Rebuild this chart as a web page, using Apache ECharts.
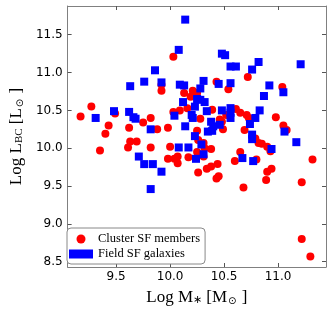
<!DOCTYPE html>
<html><head><meta charset="utf-8">
<script src="https://cdn.jsdelivr.net/npm/echarts@6/dist/echarts.min.js"></script>
<style>html,body{margin:0;padding:0;background:#fff}#c{width:332px;height:313px}</style>
</head><body><div id="c"></div>
<script>
// Cluster SF members (red circles)
const clusterX = [10.03,10.72,10.43,10.54,11.04,9.92,9.92,10.13,10.21,10.19,10.25,9.27,9.17,9.49,9.43,9.82,9.75,9.62,10.03,10.09,10.16,10.28,10.39,10.48,10.61,10.65,10.71,10.73,10.98,11.05,10.69,9.98,9.88,9.40,9.35,9.63,9.69,9.61,9.82,10.00,9.98,10.04,10.07,10.07,10.17,10.25,10.31,10.32,10.38,10.26,10.34,10.38,10.44,10.43,10.45,10.60,10.65,10.68,10.80,10.90,10.89,10.94,10.93,10.90,10.82,10.85,10.79,11.08,11.22,11.32,10.49,11.22,11.30,10.26,10.31,10.52,10.25,10.46];
const clusterY = [11.21,10.94,10.88,10.78,10.81,10.84,10.76,10.73,10.76,10.68,10.73,10.55,10.42,10.46,10.30,10.40,10.34,10.27,10.48,10.50,10.53,10.39,10.51,10.35,10.52,10.47,10.44,10.40,10.41,10.30,10.24,10.27,10.25,10.19,9.97,10.09,10.09,10.01,10.01,10.02,9.86,9.86,9.89,9.80,9.88,9.95,9.89,10.00,9.99,9.68,9.73,9.76,9.79,9.60,9.63,9.83,9.95,9.48,9.85,9.69,9.58,9.73,9.96,10.02,10.07,10.06,10.13,10.24,9.55,9.85,10.25,8.80,8.57,10.11,10.07,10.44,10.23,10.38];
// Field SF galaxies (blue squares)
const fieldX = [10.14,10.08,10.48,10.51,10.56,10.61,10.82,11.21,10.76,9.86,9.76,9.63,9.92,10.09,10.13,10.31,10.28,10.45,10.56,10.92,11.05,10.87,10.25,10.28,10.32,10.12,10.23,10.34,10.48,10.56,10.56,10.56,10.20,10.21,10.14,10.38,10.40,10.46,10.35,10.23,9.48,9.62,9.31,9.66,9.68,10.04,10.83,10.79,10.74,9.82,9.71,9.76,9.84,9.92,9.82,10.08,10.17,10.29,10.31,10.24,10.76,10.76,10.67,10.77,10.94,11.06,11.17,10.39];
const fieldY = [11.70,11.30,11.25,11.23,11.08,11.08,11.14,11.11,11.04,11.03,10.88,10.82,10.87,10.84,10.83,10.89,10.79,10.85,10.86,10.83,10.74,10.69,10.65,10.64,10.61,10.61,10.55,10.49,10.50,10.53,10.47,10.40,10.44,10.40,10.29,10.35,10.29,10.31,10.22,10.16,10.49,10.48,10.40,10.41,10.39,10.43,10.50,10.40,10.32,10.25,9.89,9.79,9.79,9.69,9.46,10.01,10.01,10.05,9.92,9.86,10.18,10.12,9.87,9.83,9.99,10.22,10.08,10.23];
const xTicks = [9.5, 10.0, 10.5, 11.0];
const yTicks = [8.5, 9.0, 9.5, 10.0, 10.5, 11.0, 11.5];
const xRange = [9.05, 11.445];
const yRange = [8.43, 11.88];
const seriesNames = ['Cluster SF members', 'Field SF galaxies'];

const zip = (a, b) => a.map((v, i) => [v, b[i]]);
const frame = '#808080';
const serif = 'Liberation Serif';
const richName = {
  a: {fontFamily: serif, fontSize: 17, color: '#000'},
  s: {fontFamily: serif, fontSize: 11, color: '#000', verticalAlign: 'bottom', padding: [6, 0, 0, 0]},
  o: {fontFamily: 'DejaVu Sans', fontSize: 10, color: '#000', verticalAlign: 'bottom', padding: [6, 1, 0, 1]}
};
const baseAxis = (range, ticks, show) => ({
  type: 'value', min: range[0], max: range[1],
  axisLine: {show: true, onZero: false, lineStyle: {color: frame, width: 1}},
  axisTick: {show: true, inside: true, length: 4, customValues: ticks, lineStyle: {color: '#555'}},
  axisLabel: {show: show, customValues: ticks, formatter: v => v.toFixed(1),
    fontFamily: 'DejaVu Sans', fontSize: 12, color: '#000'},
  splitLine: {show: false}
});

const chart = echarts.init(document.getElementById('c'));
chart.setOption({
  animation: false,
  backgroundColor: '#fff',
  grid: {left: 61, right: 6, top: 6, bottom: 46, containLabel: false},
  xAxis: [
    Object.assign(baseAxis(xRange, xTicks, true), {position: 'bottom',
      axisLabel: Object.assign(baseAxis(xRange, xTicks, true).axisLabel, {margin: 4}),
      name: '{a|Log M}{s|∗}{a| [M}{o|⊙}{a| ]}', nameLocation: 'middle', nameGap: 22,
      nameTextStyle: {rich: richName}}),
    Object.assign(baseAxis(xRange, xTicks, false), {position: 'top'})
  ],
  yAxis: [
    Object.assign(baseAxis(yRange, yTicks, true), {position: 'left',
      axisLabel: Object.assign(baseAxis(yRange, yTicks, true).axisLabel, {margin: 5}),
      name: '{a|Log L}{s|BC}{a| [L}{o|⊙}{a| ]}', nameLocation: 'middle', nameGap: 37, nameRotate: 90,
      nameTextStyle: {rich: richName}}),
    Object.assign(baseAxis(yRange, yTicks, false), {position: 'right'})
  ],
  legend: {
    orient: 'vertical', left: 67, top: 228,
    padding: [4, 5, 3, 2], itemGap: 1, itemWidth: 24, itemHeight: 9,
    borderColor: '#888', borderWidth: 1, borderRadius: 4, backgroundColor: '#fff',
    textStyle: {fontFamily: serif, fontSize: 12.5, color: '#000', lineHeight: 14},
    data: seriesNames
  },
  series: [
    {name: seriesNames[0], type: 'scatter', symbol: 'circle', symbolSize: 8,
      itemStyle: {color: '#ff0000', opacity: 1}, data: zip(clusterX, clusterY), z: 2},
    {name: seriesNames[1], type: 'scatter', symbol: 'rect', symbolSize: 8,
      itemStyle: {color: '#0000ff', opacity: 1}, data: zip(fieldX, fieldY), z: 3}
  ]
});
</script></body></html>
